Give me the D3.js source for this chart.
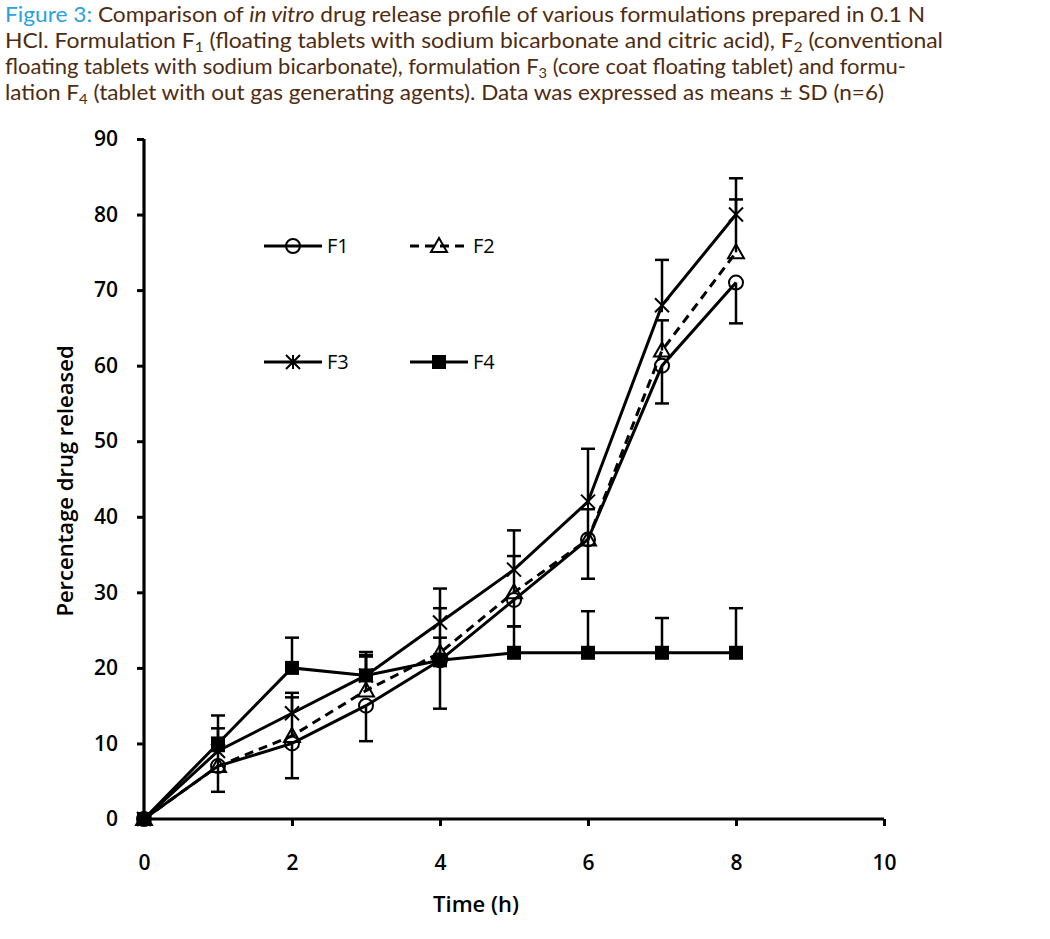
<!DOCTYPE html>
<html>
<head>
<meta charset="utf-8">
<script src="https://cdn.jsdelivr.net/npm/d3@7"></script>
<style>
  html, body { margin: 0; padding: 0; background: #fff; }
  svg { display: block; }
</style>
</head>
<body>
<svg id="chart" width="1050" height="939"></svg>
<script>
// ---- Data ----
const times = [0, 1, 2, 3, 4, 5, 6, 7, 8];
const seriesNames = ["F1", "F2", "F3", "F4"];
const f1 = [0, 7, 10, 15, 21, 29, 37, 60, 71];
const f2 = [0, 7, 11, 17, 22, 30, 37, 62, 75];
const f3 = [0, 9, 14, 19, 26, 33, 42, 68, 80];
const f4 = [0, 10, 20, 19, 21, 22, 22, 22, 22];
const f1Err = [0, 3.4, 4.6, 4.7, 6.4, 3.5, 5.2, 5.0, 5.4];   // shown below the point
const f2Err = [0, 2.0, 5.1, 4.7, 5.9, 4.8, 4.0, 4.0, 7.0];   // shown above
const f3Err = [0, 3.0, 2.7, 2.5, 4.5, 5.2, 7.0, 6.0, 4.8];   // shown above
const f4Err = [0, 3.7, 4.0, 3.1, 3.0, 3.5, 5.5, 4.6, 5.9];   // shown above
const errDirection = [-1, 1, 1, 1];
const xTicks = [0, 2, 4, 6, 8, 10];
const yTicks = [0, 10, 20, 30, 40, 50, 60, 70, 80, 90];

const values = [f1, f2, f3, f4];
const errors = [f1Err, f2Err, f3Err, f4Err];
const markers = ["circle", "triangle", "star", "square"];
const dashes = [null, "9,6", null, null];

const svg = d3.select("#chart");

// ---- Caption ----
const brown = "#4e2c12";
const blue = "#2aa2dc";
const cap = svg.append("g")
  .attr("font-family", "Lato, 'Open Sans', sans-serif")
  .attr("font-size", 21)
  .attr("fill", brown);

function line(y, len, parts) {
  const t = cap.append("text").attr("x", 5).attr("y", y)
    .attr("textLength", len).attr("lengthAdjust", "spacingAndGlyphs");
  parts.forEach(p => {
    const ts = t.append("tspan").text(p.t);
    if (p.c) ts.attr("fill", p.c);
    if (p.i) ts.attr("font-style", "italic");
    if (p.sub) ts.attr("font-size", 14).attr("dy", 4);
    if (p.up) ts.attr("dy", -4);
  });
}
line(22, 920, [
  {t: "Figure 3:", c: blue}, {t: " Comparison of "}, {t: "in vitro", i: true},
  {t: " drug release profile of various formulations prepared in 0.1 N"}
]);
line(48, 938, [
  {t: "HCl. Formulation F"}, {t: "1", sub: true}, {t: " (floating tablets with sodium bicarbonate and citric acid), F", up: true},
  {t: "2", sub: true}, {t: " (conventional", up: true}
]);
line(74, 901, [
  {t: "floating tablets with sodium bicarbonate), formulation F"}, {t: "3", sub: true},
  {t: " (core coat floating tablet) and formu-", up: true}
]);
line(100, 879, [
  {t: "lation F"}, {t: "4", sub: true}, {t: " (tablet with out gas generating agents). Data was expressed as means ± SD (n=6)", up: true}
]);

// ---- Scales ----
const x = d3.scaleLinear().domain([0, 10]).range([144, 884]);
const y = d3.scaleLinear().domain([0, 90]).range([819, 139]);

// ---- Axes ----
const axisFont = "'Open Sans', 'DejaVu Sans', sans-serif";
const gx = svg.append("g").attr("transform", `translate(0,${y(0)})`)
  .call(d3.axisBottom(x).tickValues(xTicks).tickSize(7).tickSizeOuter(0).tickPadding(29));
const gy = svg.append("g").attr("transform", `translate(${x(0)},0)`)
  .call(d3.axisLeft(y).tickValues(yTicks).tickSize(7).tickSizeOuter(0).tickPadding(19));
[gx, gy].forEach(g => {
  g.select(".domain").attr("stroke", "#000").attr("stroke-width", 3.2);
  g.selectAll(".tick line").attr("stroke", "#000").attr("stroke-width", 3);
  g.selectAll(".tick text").attr("fill", "#000")
    .attr("font-family", axisFont).attr("font-size", 21).attr("font-weight", 600);
});
gx.select(".domain").attr("d", `M${x(0)},0H${x(10)}`);
gy.select(".domain").attr("d", `M0,${y(90)}V${y(0)}`);

svg.append("text").attr("x", 476).attr("y", 912).attr("text-anchor", "middle")
  .attr("font-family", axisFont).attr("font-size", 22).attr("font-weight", 600)
  .text("Time (h)");
svg.append("text")
  .attr("transform", `translate(73,481) rotate(-90)`)
  .attr("text-anchor", "middle")
  .attr("font-family", axisFont).attr("font-size", 22).attr("font-weight", 600)
  .text("Percentage drug released");

// ---- Marker drawing ----
function drawMarker(g, type, cx, cy) {
  if (type === "circle") {
    g.append("circle").attr("cx", cx).attr("cy", cy).attr("r", 7)
      .attr("fill", "#fff").attr("fill-opacity", 0).attr("stroke", "#000").attr("stroke-width", 2);
  } else if (type === "triangle") {
    const s = 8;
    g.append("path").attr("d", `M${cx},${cy - s}L${cx + s},${cy + s * 0.75}L${cx - s},${cy + s * 0.75}Z`)
      .attr("fill", "#fff").attr("fill-opacity", 0).attr("stroke", "#000").attr("stroke-width", 2);
  } else if (type === "star") {
    const s = 7;
    g.append("path").attr("d",
      `M${cx - s},${cy - s}L${cx + s},${cy + s}M${cx - s},${cy + s}L${cx + s},${cy - s}M${cx},${cy - s}V${cy + s}`)
      .attr("stroke", "#000").attr("stroke-width", 2).attr("fill", "none");
  } else if (type === "square") {
    g.append("rect").attr("x", cx - 7).attr("y", cy - 7).attr("width", 14).attr("height", 14)
      .attr("fill", "#000");
  }
}

// ---- Series ----
const lineGen = d3.line().x(d => x(d[0])).y(d => y(d[1]));
const plot = svg.append("g");
seriesNames.forEach((name, i) => {
  const pts = times.map((t, j) => [t, values[i][j]]);
  const g = plot.append("g");
  pts.forEach((p, j) => {
    const e = errors[i][j];
    if (!e) return;
    const y0 = y(p[1]), y1 = y(p[1] + errDirection[i] * e);
    g.append("line").attr("x1", x(p[0])).attr("x2", x(p[0])).attr("y1", y0).attr("y2", y1)
      .attr("stroke", "#000").attr("stroke-width", 2.5);
    g.append("line").attr("x1", x(p[0]) - 7).attr("x2", x(p[0]) + 7).attr("y1", y1).attr("y2", y1)
      .attr("stroke", "#000").attr("stroke-width", 2.5);
  });
  g.append("path").datum(pts).attr("d", lineGen)
    .attr("fill", "none").attr("stroke", "#000").attr("stroke-width", 3)
    .attr("stroke-dasharray", dashes[i]);
  pts.forEach(p => drawMarker(g, markers[i], x(p[0]), y(p[1])));
});

// ---- Legend ----
const legendPos = [[264, 246], [410, 246], [264, 362], [410, 362]];
const leg = svg.append("g");
seriesNames.forEach((name, i) => {
  const [lx, ly] = legendPos[i];
  leg.append("line").attr("x1", lx).attr("x2", lx + 58).attr("y1", ly).attr("y2", ly)
    .attr("stroke", "#000").attr("stroke-width", 3).attr("stroke-dasharray", dashes[i]);
  drawMarker(leg, markers[i], lx + 29, ly);
  leg.append("text").attr("x", lx + 63).attr("y", ly + 7)
    .attr("font-family", axisFont).attr("font-size", 20).attr("fill", "#000")
    .text(name);
});
</script>
</body>
</html>
